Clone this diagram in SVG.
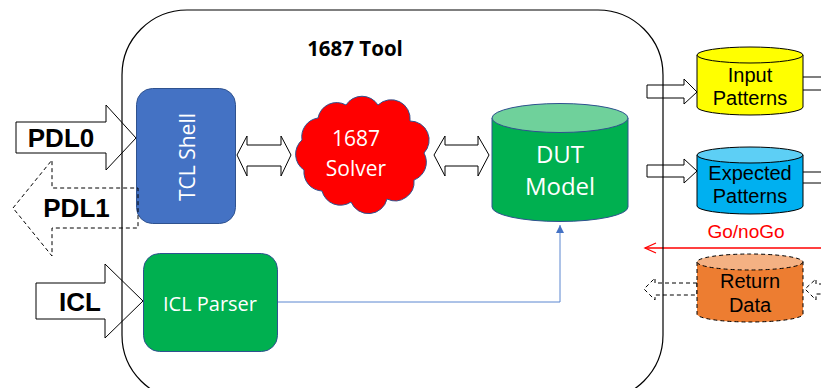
<svg xmlns="http://www.w3.org/2000/svg" width="821" height="388" viewBox="0 0 821 388">
<style>
.blk{fill:#fff;stroke:#000;stroke-width:1}
.dash{fill:none;stroke:#000;stroke-width:1;stroke-dasharray:4 3}
.lbl{font-family:"Liberation Sans",Arial,sans-serif;font-weight:bold;font-size:26px;fill:#000;text-anchor:middle}
.cal{font-family:"Open Sans","Liberation Sans",sans-serif;fill:#fff;text-anchor:middle}
.ar{font-family:"Liberation Sans",Arial,sans-serif;font-size:20px;fill:#000;text-anchor:middle}
</style>
<defs>
<marker id="tri" markerWidth="10" markerHeight="10" refX="8" refY="4" orient="auto" markerUnits="userSpaceOnUse">
<path d="M0,0 L8,4 L0,8 Z" fill="#4472C4"/>
</marker>
</defs>
<rect width="821" height="388" fill="#fff"/>
<g id="connectors">
<polygon class="blk" points="16,122 106,122 106,105 136,138 106,170 106,153 16,153"/>
<polygon class="blk" points="36,283 105,283 105,264 143,301 105,338 105,319 36,319"/>
<polygon class="blk" points="237,155 247,136 247,145 281,145 281,136 291,155 281,176 281,166 247,166 247,176"/>
<polygon class="blk" points="434,155 445,136 445,145 478,145 478,136 489,155 478,176 478,166 445,166 445,176"/>
<polygon class="blk" points="647,85 684,85 684,79 697,92 684,104 684,98 647,98"/>
<polygon class="blk" points="647,165 684,165 684,159 697,171 684,183 684,177 647,177"/>
<rect class="blk" x="790" y="77" width="40" height="13"/>
<rect class="blk" x="790" y="172" width="40" height="11"/>
<polygon class="dash" points="697,283 655,283 655,278 644,289 655,300 655,295 697,295"/>
<polygon class="dash" points="830,284 816,284 816,279 805,289 816,300 816,294 830,294"/>
<polyline points="278,302 560,302 560,225" fill="none" stroke="#5B86D0" stroke-width="1" marker-end="url(#tri)"/>
<line x1="821" y1="248" x2="645" y2="248" stroke="#f00" stroke-width="1.3"/>
<polyline points="656,243 645,248 656,253" fill="none" stroke="#f00" stroke-width="1.3"/>
</g>
<g id="tool">
<rect x="122" y="10" width="541" height="390" rx="65" ry="65" fill="none" stroke="#000" stroke-width="1.2"/>
<text x="355" y="56" font-family="'Open Sans','Liberation Sans',sans-serif" font-weight="bold" font-size="20.5" text-anchor="middle" fill="#000">1687 Tool</text>
</g>
<g id="pdl0"><text class="lbl" x="61" y="147">PDL0</text></g>
<g id="icl"><text class="lbl" x="80" y="311">ICL</text></g>
<g id="tcl-shell">
<rect x="136.5" y="88.5" width="99" height="135" rx="16" fill="#4472C4" stroke="#2F528F" stroke-width="1"/>
<text class="cal" x="187" y="165" font-size="21" transform="rotate(-90 187 157)">TCL Shell</text>
</g>
<g id="pdl1">
<polygon class="dash" points="13,208 52,160 52,188 138,188 138,228 52,228 52,256"/>
<text class="lbl" x="76.5" y="217">PDL1</text>
</g>
<g id="icl-parser">
<rect x="143.5" y="253.5" width="134" height="98" rx="16" fill="#00B050" stroke="#2F528F" stroke-width="1"/>
<text class="cal" x="210" y="311" font-size="20">ICL Parser</text>
</g>
<g id="solver">
<path d="M424,153 A19,19 0 0 1 414,180 A19,19 0 0 1 387,199 A19,19 0 0 1 351,202 A19,19 0 0 1 322,191 A19,19 0 0 1 304,170 A19,19 0 0 1 302,140 A19,19 0 0 1 318,118 A19,19 0 0 1 346,105 A19,19 0 0 1 378,105 A19,19 0 0 1 410,121 A19,19 0 0 1 424,153 Z" fill="#f00" stroke="#2F528F" stroke-width="1"/>
<text class="cal" x="356" y="146" font-size="21">1687</text>
<text class="cal" x="356" y="176" font-size="21">Solver</text>
</g>
<g id="dut">
<path d="M492,118 L492,207 A68,14.5 0 0 0 628,207 L628,118 Z" fill="#00B050" stroke="#2F528F" stroke-width="1"/>
<ellipse cx="560" cy="118" rx="68" ry="14.5" fill="#6FD19B" stroke="#2F528F" stroke-width="1"/>
<text class="cal" x="560" y="163" font-size="24">DUT</text>
<text class="cal" x="560" y="195" font-size="24">Model</text>
</g>
<g id="input-patterns">
<path d="M697,55 L697,107 A53,8 0 0 0 803,107 L803,55 Z" fill="#FFFF00" stroke="#000" stroke-width="1"/>
<ellipse cx="750" cy="55" rx="53" ry="8" fill="#FFFF00" stroke="#000" stroke-width="1"/>
<text class="ar" x="750" y="82">Input</text>
<text class="ar" x="750" y="105">Patterns</text>
</g>
<g id="expected-patterns">
<path d="M697,155 L697,206 A53,8 0 0 0 803,206 L803,155 Z" fill="#00B0F0" stroke="#000" stroke-width="1"/>
<ellipse cx="750" cy="155" rx="53" ry="8" fill="#5DCFF5" stroke="#000" stroke-width="1"/>
<text class="ar" x="750" y="180">Expected</text>
<text class="ar" x="750" y="203">Patterns</text>
</g>
<g id="go-nogo"><text x="746" y="238" font-family="'Liberation Sans',Arial,sans-serif" font-size="19" fill="#f00" text-anchor="middle">Go/noGo</text></g>
<g id="return-data">
<path d="M697,262 L697,314 A53,8 0 0 0 803,314 L803,262 Z" fill="#ED7D31" stroke="#000" stroke-width="1" stroke-dasharray="4 3"/>
<ellipse cx="750" cy="262" rx="53" ry="8" fill="#F4B183" stroke="#000" stroke-width="1" stroke-dasharray="4 3"/>
<text class="ar" x="750" y="288">Return</text>
<text class="ar" x="750" y="312">Data</text>
</g>
</svg>
